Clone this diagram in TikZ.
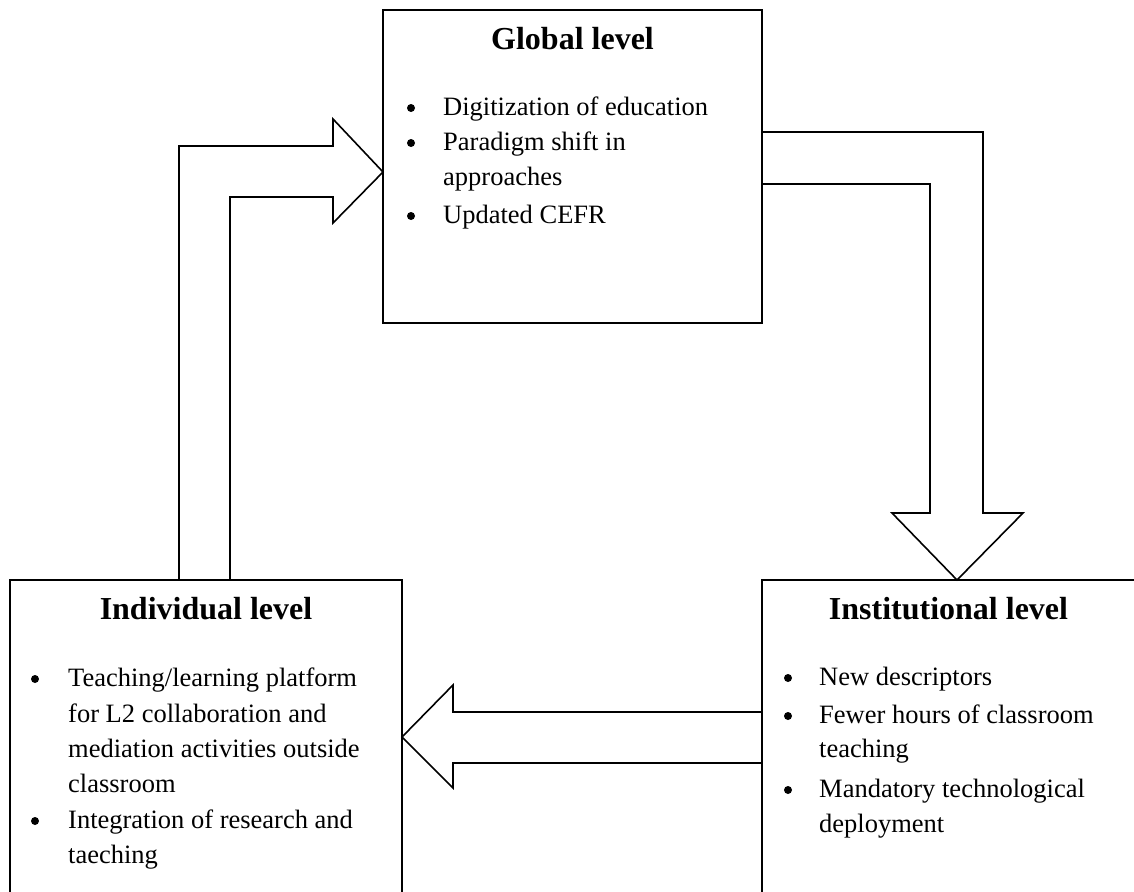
\documentclass[tikz,border=0pt]{standalone}
\usepackage{fontspec}
\setmainfont{Liberation Serif}
\begin{document}
\begin{tikzpicture}[x=1pt,y=-1pt,
  boxframe/.style={draw, line width=1.6pt, rectangle, inner sep=0pt, outer sep=0pt},
  fatarrow/.style={draw, line width=1.6pt, fill=white, line join=miter},
  levelhead/.style={font=\bfseries\fontsize{32}{38}\selectfont, anchor=base, inner sep=0pt},
  itemtext/.style={font=\fontsize{26.5}{35}\selectfont, anchor=base west, inner sep=0pt},
  itembullet/.style={circle, fill=black, inner sep=0pt, minimum size=8pt}]
\useasboundingbox (0,0) rectangle (1134,891);
\clip (0,0) rectangle (1134,891);

% the three level boxes (the lower two run past the page edge)
\path (383,10) coordinate (gnw);
\node[boxframe, anchor=north west, minimum width=379pt, minimum height=313pt] (global) at (gnw) {};
\node[boxframe, anchor=north west, minimum width=392pt, minimum height=340pt] (indiv) at (10,580) {};
\node[boxframe, anchor=north west, minimum width=420pt, minimum height=340pt] (inst) at (762,580) {};

% block arrows between the levels
\draw[fatarrow] (179,0 |- indiv.north) -- (179,146) -- (333,146) -- (333,119)
  -- (global.west |- 0,172) -- (333,223) -- (333,197) -- (230,197) -- (230,0 |- indiv.north);
\draw[fatarrow] (global.east |- 0,132) -- (983,132) -- (983,513) -- (1023,513)
  -- (957,0 |- inst.north) -- (892,513) -- (930,513) -- (930,184) -- (global.east |- 0,184);
\draw[fatarrow] (inst.west |- 0,712) -- (453,712) -- (453,685)
  -- (indiv.east |- 0,737) -- (453,788) -- (453,763) -- (inst.west |- 0,763);

% redraw the box outlines on top of the arrow ends
\draw[line width=1.6pt] (global.north west) rectangle (global.south east);
\draw[line width=1.6pt] (indiv.north west) rectangle (indiv.south east);
\draw[line width=1.6pt] (inst.north west) rectangle (inst.south east);

% Global level
\node[levelhead] (gtitle) at (572.5,49) {Global level};
\node[itembullet] (gb1) at (411,108) {};
\node[itemtext] (g1) at (443,115) {Digitization of education};
\node[itembullet] (gb2) at (411,143) {};
\node[itemtext] (g2a) at (443,150) {Paradigm shift in};
\node[itemtext] (g2b) at (443,185) {approaches};
\node[itembullet] (gb3) at (411,216) {};
\node[itemtext] (g3) at (443,223) {Updated CEFR};

% Individual level
\node[levelhead] (ititle) at (206,619) {Individual level};
\node[itembullet] (ib1) at (35,679) {};
\node[itemtext] (i1a) at (68,686) {Teaching/learning platform};
\node[itemtext] (i1b) at (68,722) {for L2 collaboration and};
\node[itemtext] (i1c) at (68,757) {mediation activities outside};
\node[itemtext] (i1d) at (68,792) {classroom};
\node[itembullet] (ib2) at (35,821) {};
\node[itemtext] (i2a) at (68,828) {Integration of research and};
\node[itemtext] (i2b) at (68,863) {taeching};

% Institutional level
\node[levelhead] (ntitle) at (948.5,619) {Institutional level};
\node[itembullet] (nb1) at (788,678) {};
\node[itemtext] (n1) at (819,685) {New descriptors};
\node[itembullet] (nb2) at (788,716) {};
\node[itemtext] (n2a) at (819,723) {Fewer hours of classroom};
\node[itemtext] (n2b) at (819,757) {teaching};
\node[itembullet] (nb3) at (788,790) {};
\node[itemtext] (n3a) at (819,797) {Mandatory technological};
\node[itemtext] (n3b) at (819,832) {deployment};
\end{tikzpicture}
\end{document}
